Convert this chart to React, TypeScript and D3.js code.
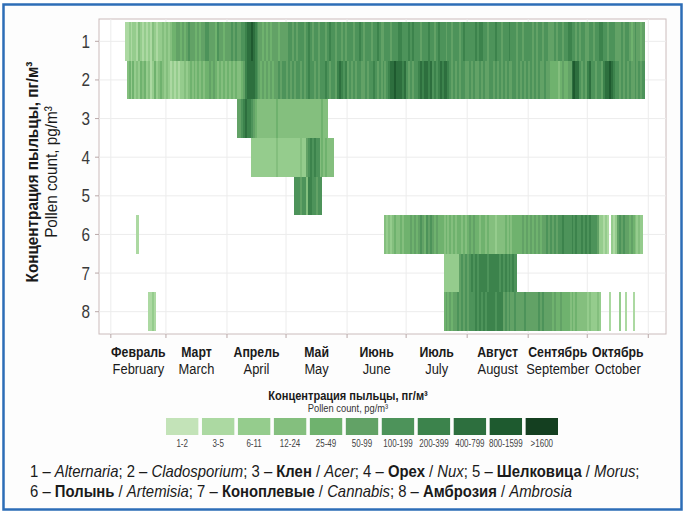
import * as d3 from 'd3'

// concentration classes (legend) and their colours, light -> dark
const classLabels = ['1-2', '3-5', '6-11', '12-24', '25-49', '50-99', '100-199', '200-399', '400-799', '800-1599', '>1600']
const classColors = ['#c3e3b8', '#acd9a2', '#95cc8d', '#84bf7e', '#6fb26e', '#62a266', '#4d935a', '#3c834c', '#2d6f3e', '#1e5a2f', '#143f20']

const rowKeys = ['1', '2', '3', '4', '5', '6', '7', '8']

const monthsRu = ['Февраль', 'Март', 'Апрель', 'Май', 'Июнь', 'Июль', 'Август', 'Сентябрь', 'Октябрь']
const monthsEn = ['February', 'March', 'April', 'May', 'June', 'July', 'August', 'September', 'October']

// one char per day: class index (0-9, a=10), '.' = no pollen
const alternaria = [
  ['2013-02-08',
    '112122132121213212232' + '3234455454565554545566555465545' + '556565566788987655454545554555' +
    '5665656665676566566656766566565' + '666566765666566765566656667766' + '6767666566676656766656656665676' +
    '6666767766566676656667666566566' + '665656656655565665667766565665' + '56656677665666555656654565545'],
]
const cladosporium = [
  ['2013-02-09',
    '34242324342312423432' + '3212121223234343434344545434343' + '434343345788887654545454556566' +
    '5656566565676656566676566578767' + '565656655656676565656788988878' + '6565667878878676787887656565665' +
    '5656556565566565656565566565656' + '565656556554444345445589886565' + '78665665788987665656565565656'],
]
const acer = [['2013-04-06', '5567877654' + '3333333333' + '4333333333' + '3333333333' + '333433']]
const nux = [['2013-04-13', '2222222222' + '2223222222' + '22222322' + '5676766' + '3434333']]
const morus = [['2013-05-05', '66656637766566']]
const artemisia = [
  ['2013-02-14', '1'],
  ['2013-06-20',
    '32323433434' + '4454545654656545444343434344343' + '4545443443433323333434344444545' +
    '454545455656565667666676766767' + '676665' + '22121' + '.' + '212' + '565655' + '4543232'],
]
const cannabis = [['2013-07-20', '22222222' + '5656' + '5676767777677777676767676']]
const ambrosia = [
  ['2013-02-20', '1121'],
  ['2013-07-20',
    '454545565656' + '5666767676777767775656556555565' + '555556565555454454444343433333' +
    '2322232....1....2..1...1'],
]

const rows = [alternaria, cladosporium, acer, nux, morus, artemisia, cannabis, ambrosia]

const font = '"Liberation Sans", Arial, sans-serif'
const ink = '#1a1a1a'

// narrow text: the original uses a condensed face, so squeeze horizontally
const T = ({ x, y, rot = 0, sx = 0.85, anchor = 'start', size, weight = 'normal', fill = ink, children }) => (
  <text transform={`translate(${x},${y}) rotate(${rot}) scale(${sx},1)`} textAnchor={anchor}
    fontSize={size} fontWeight={weight} fill={fill}>{children}</text>
)

const App = () => {
  const parse = d3.utcParse('%Y-%m-%d')
  const x = d3.scaleUtc().domain([parse('2013-01-26'), parse('2013-11-10')]).range([99, 666])
  const y = d3.scaleBand().domain(rowKeys).range([22, 331])
  const color = d3.scaleOrdinal().domain(d3.range(11)).range(classColors)

  const cells = []
  rows.forEach((segs, r) => {
    segs.forEach(([start, codes]) => {
      const d0 = parse(start)
      codes.split('').forEach((c, i) => {
        if (c === '.') return
        const d = d3.utcDay.offset(d0, i)
        cells.push({ row: rowKeys[r], d, level: parseInt(c, 16) })
      })
    })
  })

  const monthStarts = d3.utcMonths(parse('2013-02-01'), parse('2013-11-02'))
  const legendX = d3.scaleBand().domain(classLabels).range([166, 558]).paddingInner(0.1)

  const it = { fontStyle: 'italic' }
  const bd = { fontWeight: 'bold' }

  return (
    <svg width={686} height={513} style={{ position: 'absolute', left: 0, top: 0, fontFamily: font }}>
      <rect x={0} y={0} width={686} height={513} fill="#fff" />
      <rect x={3.5} y={4.5} width={678} height={505} fill="#fdfdfd" stroke="#2d6db7" strokeWidth={2.5} />

      {/* plot panel */}
      <rect x={99} y={19} width={567} height={315} fill="#fff" stroke="#cbbcbc" />
      {monthStarts.map((m, i) => (
        <g key={i}>
          <line x1={x(m)} x2={x(m)} y1={19} y2={334} stroke="#ececec" />
          <line x1={x(m)} x2={x(m)} y1={334} y2={338} stroke="#b9a9a9" />
        </g>
      ))}
      {rowKeys.map(k => {
        const cy = y(k) + y.bandwidth() / 2
        return (
          <g key={k}>
            <line x1={99} x2={666} y1={cy} y2={cy} stroke="#ececec" />
            <line x1={95} x2={99} y1={cy} y2={cy} stroke="#b9a9a9" />
            <T x={90} y={cy + 6.5} anchor="end" size={18} fill="#3a3a3a">{k}</T>
          </g>
        )
      })}

      <g shapeRendering="crispEdges">
        {cells.map((c, i) => (
          <rect key={i} x={x(c.d)} y={y(c.row)} width={x(d3.utcDay.offset(c.d, 1)) - x(c.d) + 0.3}
            height={y.bandwidth()} fill={color(c.level)} />
        ))}
      </g>

      {/* month labels */}
      {monthStarts.slice(0, 9).map((m, i) => {
        const mid = (x(m) + x(monthStarts[i + 1])) / 2
        return (
          <g key={i}>
            <T x={mid} y={357} anchor="middle" size={15} weight="bold" sx={0.82}>{monthsRu[i]}</T>
            <T x={mid} y={374} anchor="middle" size={15} sx={0.86}>{monthsEn[i]}</T>
          </g>
        )
      })}

      {/* y title */}
      <T x={38} y={172} rot={-90} anchor="middle" size={17} weight="bold" sx={0.9}>Концентрация пыльцы, пг/м³</T>
      <T x={57} y={172} rot={-90} anchor="middle" size={17} sx={0.9}>Pollen count, pg/m³</T>

      {/* legend */}
      <T x={348} y={400} anchor="middle" size={13} weight="bold">Концентрация пыльцы, пг/м³</T>
      <T x={348} y={412} anchor="middle" size={11} fill="#333">Pollen count, pg/m³</T>
      {classLabels.map((l, i) => (
        <g key={l}>
          <rect x={legendX(l)} y={418} width={legendX.bandwidth()} height={17} fill={classColors[i]} />
          <T x={legendX(l) + legendX.bandwidth() / 2} y={447} anchor="middle" size={10} sx={0.8} fill="#444">{l}</T>
        </g>
      ))}

      {/* caption */}
      <text transform="translate(30,477) scale(0.93,1)" fontSize={16} fill={ink}>
        <tspan>1 – </tspan><tspan style={it}>Alternaria</tspan><tspan>; 2 – </tspan><tspan style={it}>Cladosporium</tspan>
        <tspan>; 3 – </tspan><tspan style={bd}>Клен</tspan><tspan> / </tspan><tspan style={it}>Acer</tspan>
        <tspan>; 4 – </tspan><tspan style={bd}>Орех</tspan><tspan> / </tspan><tspan style={it}>Nux</tspan>
        <tspan>; 5 – </tspan><tspan style={bd}>Шелковица</tspan><tspan> / </tspan><tspan style={it}>Morus</tspan><tspan>;</tspan>
      </text>
      <text transform="translate(30,497) scale(0.93,1)" fontSize={16} fill={ink}>
        <tspan>6 – </tspan><tspan style={bd}>Полынь</tspan><tspan> / </tspan><tspan style={it}>Artemisia</tspan>
        <tspan>; 7 – </tspan><tspan style={bd}>Коноплевые</tspan><tspan> / </tspan><tspan style={it}>Cannabis</tspan>
        <tspan>; 8 – </tspan><tspan style={bd}>Амброзия</tspan><tspan> / </tspan><tspan style={it}>Ambrosia</tspan>
      </text>
    </svg>
  )
}

export default App
